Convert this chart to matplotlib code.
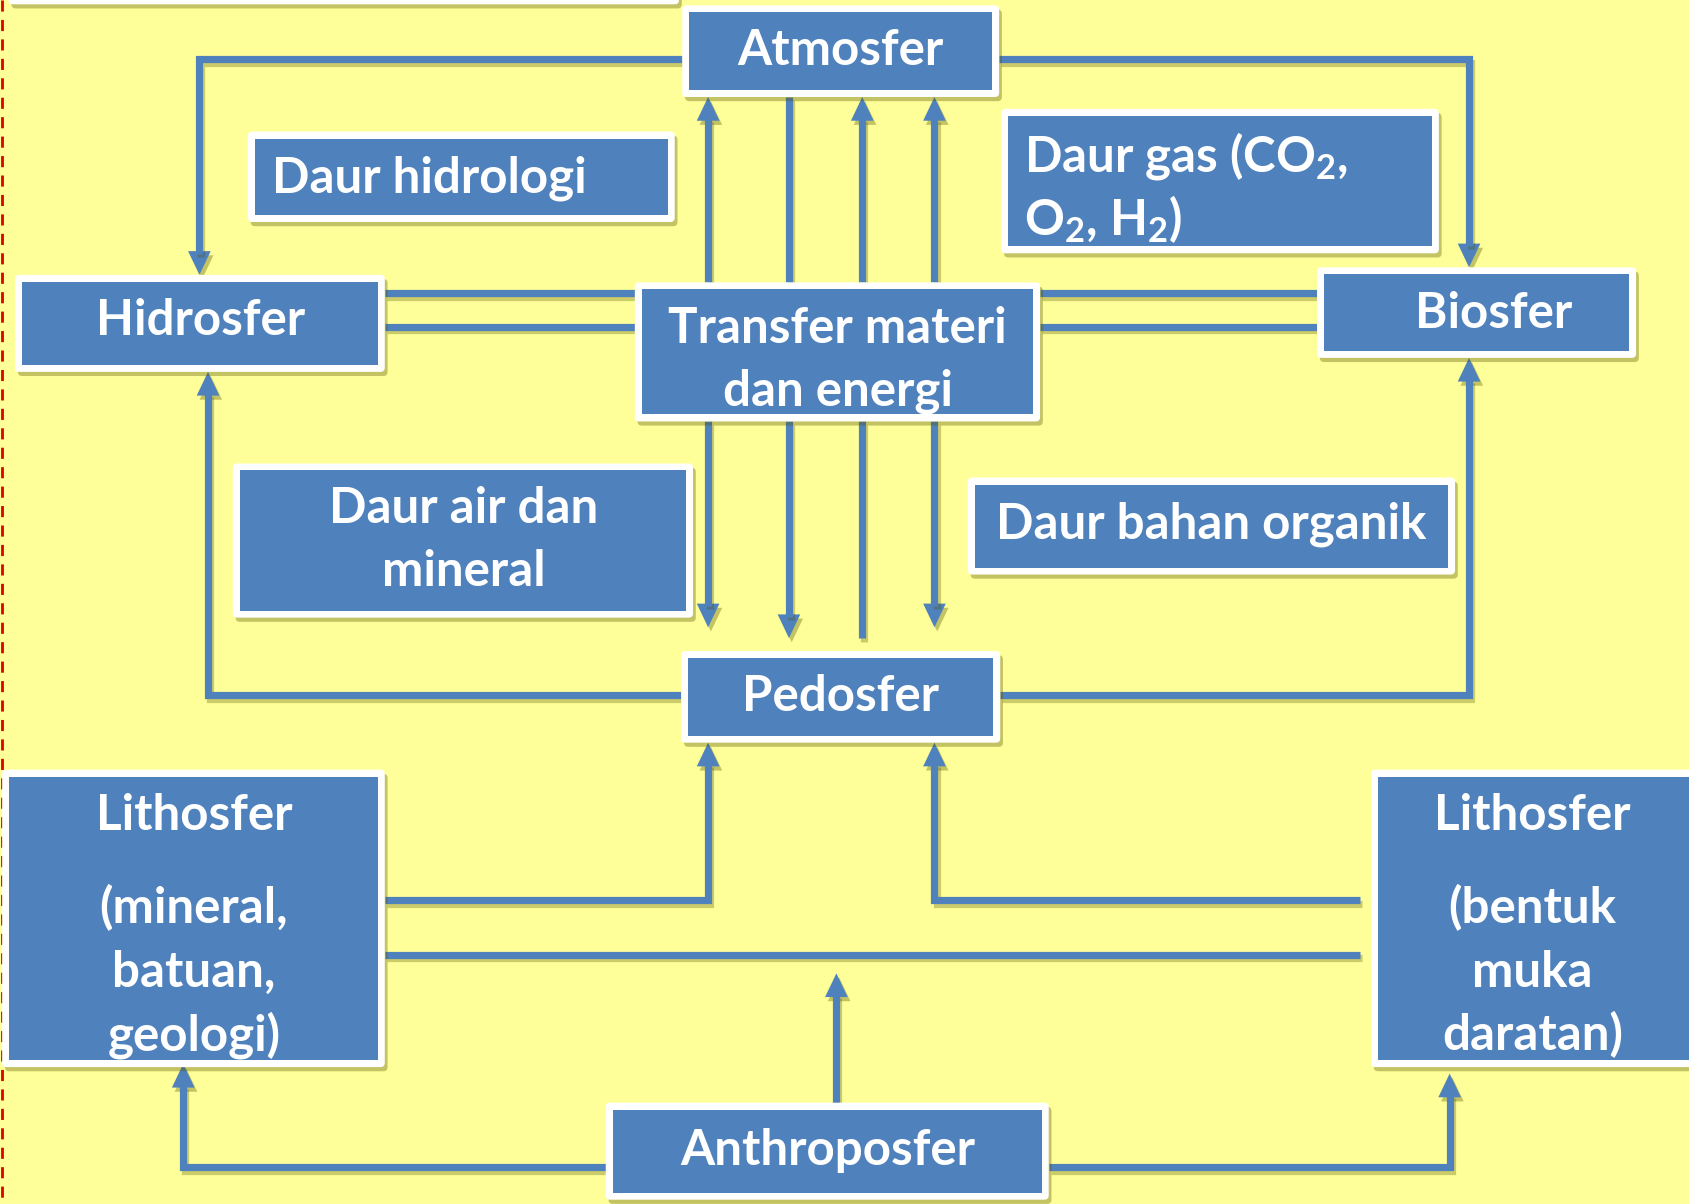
import matplotlib
matplotlib.use("Agg")
import matplotlib.pyplot as plt
import matplotlib.patheffects as pe
from matplotlib.patches import Rectangle, FancyBboxPatch, Polygon

# drawing units follow the picture (x right, y down)
W, H = 1568, 1117
BG = '#FFFF99'
BLUE = '#4F81BD'
FONT = 'Lato'

plt.rcParams['mathtext.fontset'] = 'custom'
plt.rcParams['mathtext.rm'] = 'Lato:bold'
plt.rcParams['mathtext.default'] = 'rm'

# boxes
box_lines = [
    ['Atmosfer'],
    ['Daur hidrologi'],
    ['Daur gas (CO$_2$,', 'O$_2$, H$_2$)'],
    ['Hidrosfer'],
    ['Transfer materi', 'dan energi'],
    ['Biosfer'],
    ['Daur air dan', 'mineral'],
    ['Daur bahan organik'],
    ['Pedosfer'],
    ['Lithosfer', '(mineral,', 'batuan,', 'geologi)'],
    ['Lithosfer', '(bentuk', 'muka', 'daratan)'],
    ['Anthroposfer'],
]
box_x0 = [633, 230, 929, 14, 589, 1222, 216, 898, 632, 2, 1272, 562]
box_x1 = [927, 626, 1335, 357, 965, 1518, 643, 1350, 928, 357, 1575, 973]
box_y0 = [5, 122, 101, 255, 262, 248, 430, 443, 604, 714, 714, 1023]
box_y1 = [90, 206, 235, 345, 391, 332, 573, 533, 689, 990, 990, 1113]
text_x = [780, 252, 950, 186, 777, 1386, 430, 1124, 780, 180, 1422, 768]
text_y = [[47], [165], [145, 203], [297], [305, 363], [291], [472, 530], [486],
          [646], [757, 842, 902, 960], [757, 842, 902, 960], [1067]]
text_left = [False, True, True, False, False, False, False, False, False, False, False, False]

# connectors: polyline vertices, arrowhead at the last vertex or not
conn_pts = [
    [(633, 55), (185, 55), (185, 255)],
    [(927, 55), (1363, 55), (1363, 248)],
    [(657, 262), (657, 90)],
    [(732, 262), (732, 90)],
    [(800, 262), (800, 90)],
    [(867, 262), (867, 90)],
    [(357, 272), (589, 272)],
    [(357, 303), (589, 303)],
    [(965, 272), (1222, 272)],
    [(965, 303), (1222, 303)],
    [(657, 391), (657, 582)],
    [(732, 391), (732, 592)],
    [(800, 391), (800, 592)],
    [(867, 391), (867, 582)],
    [(632, 645), (193, 645), (193, 345)],
    [(928, 645), (1363, 645), (1363, 332)],
    [(357, 835), (657, 835), (657, 689)],
    [(1262, 835), (867, 835), (867, 689)],
    [(357, 886), (1262, 886)],
    [(776, 1023), (776, 903)],
    [(562, 1083), (170, 1083), (170, 987)],
    [(973, 1083), (1345, 1083), (1345, 996)],
]
conn_arrow = [True, True, True, False, True, True, False, False, False, False,
              True, True, False, True, True, True, True, True, False, True, True, True]

fig = plt.figure(figsize=(16.9, 12.04), dpi=100)
fig.patch.set_facecolor(BG)
ax = fig.add_axes([0, 0, 1, 1])
ax.set_xlim(0, W)
ax.set_ylim(H, 0)
ax.axis('off')
ax.set_facecolor(BG)

shadow_line = [pe.SimpleLineShadow(offset=(1.5, -2.5), alpha=0.3, shadow_color='#555500'), pe.Normal()]
shadow_patch = [pe.withSimplePatchShadow(offset=(2, -3), alpha=0.35, shadow_rgbFace='#555500')]

# red dashed slide edge
ax.plot([1.5, 1.5], [0, H], color='#DD0000', lw=2, ls=(0, (4, 3)), zorder=1)

# white box cut at the top edge
ax.add_patch(FancyBboxPatch((8, -30), 622, 34, boxstyle='round,pad=0,rounding_size=4',
                            fc='white', ec='none', zorder=3, path_effects=shadow_patch))

LW = 5.2
HEAD_W, HEAD_L = 21, 22
for pts, arr in zip(conn_pts, conn_arrow):
    xs = [p[0] for p in pts]
    ys = [p[1] for p in pts]
    if arr:
        # shorten the last segment so the head sits on the tip
        (xa, ya), (xb, yb) = pts[-2], pts[-1]
        d = ((xb - xa) ** 2 + (yb - ya) ** 2) ** 0.5
        ux, uy = (xb - xa) / d, (yb - ya) / d
        xs[-1] = xb - ux * HEAD_L * 0.9
        ys[-1] = yb - uy * HEAD_L * 0.9
        bx, by = xb - ux * HEAD_L, yb - uy * HEAD_L
        px, py = -uy, ux
        head = Polygon([(xb, yb), (bx + px * HEAD_W / 2, by + py * HEAD_W / 2),
                        (bx - px * HEAD_W / 2, by - py * HEAD_W / 2)],
                       closed=True, fc=BLUE, ec='none', zorder=2, path_effects=shadow_patch)
        ax.add_patch(head)
    ax.plot(xs, ys, color=BLUE, lw=LW, solid_capstyle='butt', solid_joinstyle='miter',
            zorder=2, path_effects=shadow_line)

BORDER = 6.5
for i in range(len(box_lines)):
    x0, x1, y0, y1 = box_x0[i], box_x1[i], box_y0[i], box_y1[i]
    ax.add_patch(FancyBboxPatch((x0, y0), x1 - x0, y1 - y0, boxstyle='round,pad=0,rounding_size=4',
                                fc='white', ec='none', zorder=3, path_effects=shadow_patch))
    ax.add_patch(Rectangle((x0 + BORDER, y0 + BORDER), x1 - x0 - 2 * BORDER, y1 - y0 - 2 * BORDER,
                           fc=BLUE, ec='none', zorder=4))
    for line, ty in zip(box_lines[i], text_y[i]):
        ax.text(text_x[i], ty, line, ha='left' if text_left[i] else 'center', va='center',
                fontsize=35.5, fontweight='bold', family=FONT, color='white', zorder=5)

fig.savefig('out.png', dpi=100, facecolor=BG)
